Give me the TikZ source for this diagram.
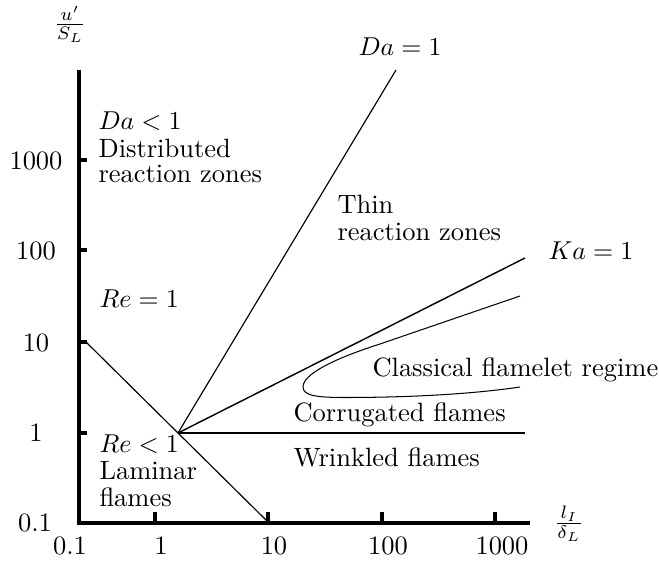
\documentclass[tikz,border=0pt]{standalone}
\begin{document}
\begin{tikzpicture}[x=0.387pt,y=-0.387pt,
  every node/.style={font=\fontsize{10.25}{12}\selectfont},
  axis/.style={line width=1.9pt, line cap=butt, line join=miter},
  tickmark/.style={line width=1.7pt, line cap=butt},
  regline/.style={line width=0.45pt},
  curveline/.style={line width=0.4pt},
  boundary/.style={line width=1pt},
  lbl/.style={anchor=base west, inner sep=0pt},
  ticklbl/.style={anchor=base, inner sep=0pt},
]
\useasboundingbox (0,0) rectangle (659,566);

% key points
\coordinate (O) at (79,523);
\coordinate (Ytop) at (79,70);
\coordinate (Xend) at (530,523);
\coordinate (V) at (178,433);
\coordinate (ReTop) at (86,342);
\coordinate (ReBot) at (267,521);
\coordinate (DaTop) at (396,70);
\coordinate (KaEnd) at (525,258);
\coordinate (HEnd) at (525,433);
\coordinate (Cu) at (520,296);
\coordinate (Cl) at (520,387);

% axes
\draw[axis] (Ytop) -- (O) -- (Xend);
% ticks
\foreach \t in {160,250,342,433} \draw[tickmark] (78,\t) -- (87,\t);
\foreach \t in {155,268,382,495} \draw[tickmark] (\t,524) -- (\t,512);

% tick labels
\node[ticklbl] (y1000) at (36,170) {1000};
\node[ticklbl] (y100) at (36,260) {100};
\node[ticklbl] (y10) at (36,352) {10};
\node[ticklbl] (y1) at (36,442) {1};
\node[ticklbl] (y01) at (35,532) {0.1};
\node[ticklbl] (x01) at (70,555) {0.1};
\node[ticklbl] (x1) at (161,555) {1};
\node[ticklbl] (x10) at (274,555) {10};
\node[ticklbl] (x100) at (388,555) {100};
\node[ticklbl] (x1000) at (502,555) {1000};

% axis labels
\node[ticklbl] (ylab) at (70,31) {$\frac{u'}{S_L}$};
\node[ticklbl] (xlab) at (569,529.5) {$\frac{l_I}{\delta_L}$};

% regime boundaries
\draw[regline] (ReTop) -- (V) -- (ReBot);
\draw[regline] (V) -- (DaTop);
\draw[regline, line width=0.55pt] (V) -- (KaEnd);
\draw[boundary] (V) -- (HEnd);
\draw[curveline] (Cu) -- (380,344) .. controls (330,360) and (303,375) .. (303,387)
  .. controls (303,396) and (318,397.5) .. (345,397.5)
  .. controls (420,397.5) and (480,393) .. (Cl);

% region labels
\node[lbl] (da1) at (358,56) {$Da=1$};
\node[lbl] (ka1) at (548,260) {$Ka=1$};
\node[lbl] (dal) at (98,130) {$Da<1$};
\node[lbl] (dist) at (98,158) {Distributed};
\node[lbl] (distr) at (98,183) {reaction zones};
\node[lbl] (re1) at (99,308) {$Re=1$};
\node[lbl] (rel) at (99,453) {$Re<1$};
\node[lbl] (lam) at (99,480) {Laminar};
\node[lbl] (lamf) at (99,507) {flames};
\node[lbl] (thin) at (337,213) {Thin};
\node[lbl] (thinr) at (337,240) {reaction zones};
\node[lbl] (clas) at (372,377) {Classical flamelet regime};
\node[lbl] (corr) at (293,422) {Corrugated flames};
\node[lbl] (wrin) at (293,467) {Wrinkled flames};
\end{tikzpicture}
\end{document}
